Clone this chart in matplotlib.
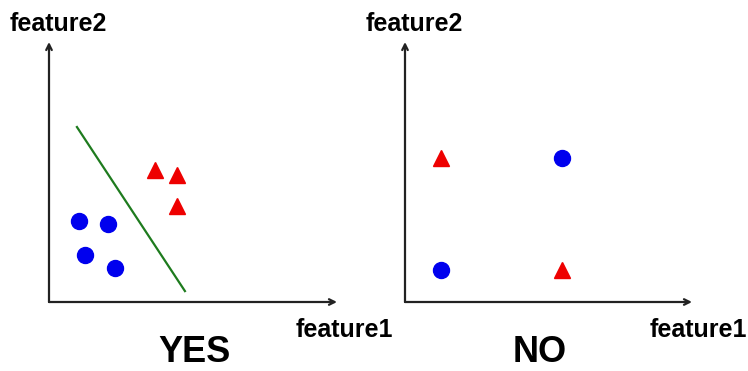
import matplotlib.pyplot as plt

plt.rcParams['font.family'] = ['Liberation Sans', 'DejaVu Sans']

# left panel ("YES"): linearly separable
yes_circle_x = [1.04, 2.05, 1.25, 2.29]
yes_circle_y = [3.12, 3.00, 1.81, 1.31]
yes_tri_x = [3.68, 4.44, 4.44]
yes_tri_y = [5.08, 4.88, 3.69]
yes_line_x = [0.97, 4.72]
yes_line_y = [6.73, 0.42]

# right panel ("NO"): XOR layout
no_circle_x = [5.47, 1.25]
no_circle_y = [5.54, 1.23]
no_tri_x = [1.25, 5.47]
no_tri_y = [5.54, 1.23]

W, H = 748, 371
fig = plt.figure(figsize=(W / 100, H / 100), dpi=100)


def make_axes(x0, x1):
    # pixel box -> figure fraction, y from 302 (origin) up to 42 (arrow tip)
    ax = fig.add_axes([x0 / W, 1 - 302 / H, (x1 - x0) / W, (302 - 42) / H])
    ax.set_xlim(0, 10)
    ax.set_ylim(0, 10)
    ax.axis('off')
    arrow = dict(arrowstyle='->', lw=1.6, color='#222222', shrinkA=0, shrinkB=0)
    ax.annotate('', xy=(1, 0), xytext=(0, 0), xycoords='axes fraction', arrowprops=arrow)
    ax.annotate('', xy=(0, 1), xytext=(0, 0), xycoords='axes fraction', arrowprops=arrow)
    return ax


ax1 = make_axes(49, 337)
ax1.plot(yes_line_x, yes_line_y, color='#1e7b1e', lw=1.6)
ax1.plot(yes_circle_x, yes_circle_y, 'o', color='#0000ee', ms=11.5, ls='none')
ax1.plot(yes_tri_x, yes_tri_y, '^', color='#ee0000', ms=12, ls='none')

ax2 = make_axes(405, 692)
ax2.plot(no_circle_x, no_circle_y, 'o', color='#0000ee', ms=11.5, ls='none')
ax2.plot(no_tri_x, no_tri_y, '^', color='#ee0000', ms=12, ls='none')

lab = dict(fontsize=18, fontweight='bold', va='baseline', ha='left')
fig.text(10 / W, 1 - 31 / H, 'feature2', **lab)
fig.text(366 / W, 1 - 31 / H, 'feature2', **lab)
fig.text(296 / W, 1 - 337 / H, 'feature1', **lab)
fig.text(650 / W, 1 - 337 / H, 'feature1', **lab)

# big labels kept just high enough that the text box stays inside the figure
big = dict(fontsize=26, fontweight='bold', va='bottom', ha='center')
fig.text(194 / W, 1 / H, 'YES', **big)
fig.text(540 / W, 1 / H, 'NO', **big)

fig.savefig('out.png', dpi=100)
